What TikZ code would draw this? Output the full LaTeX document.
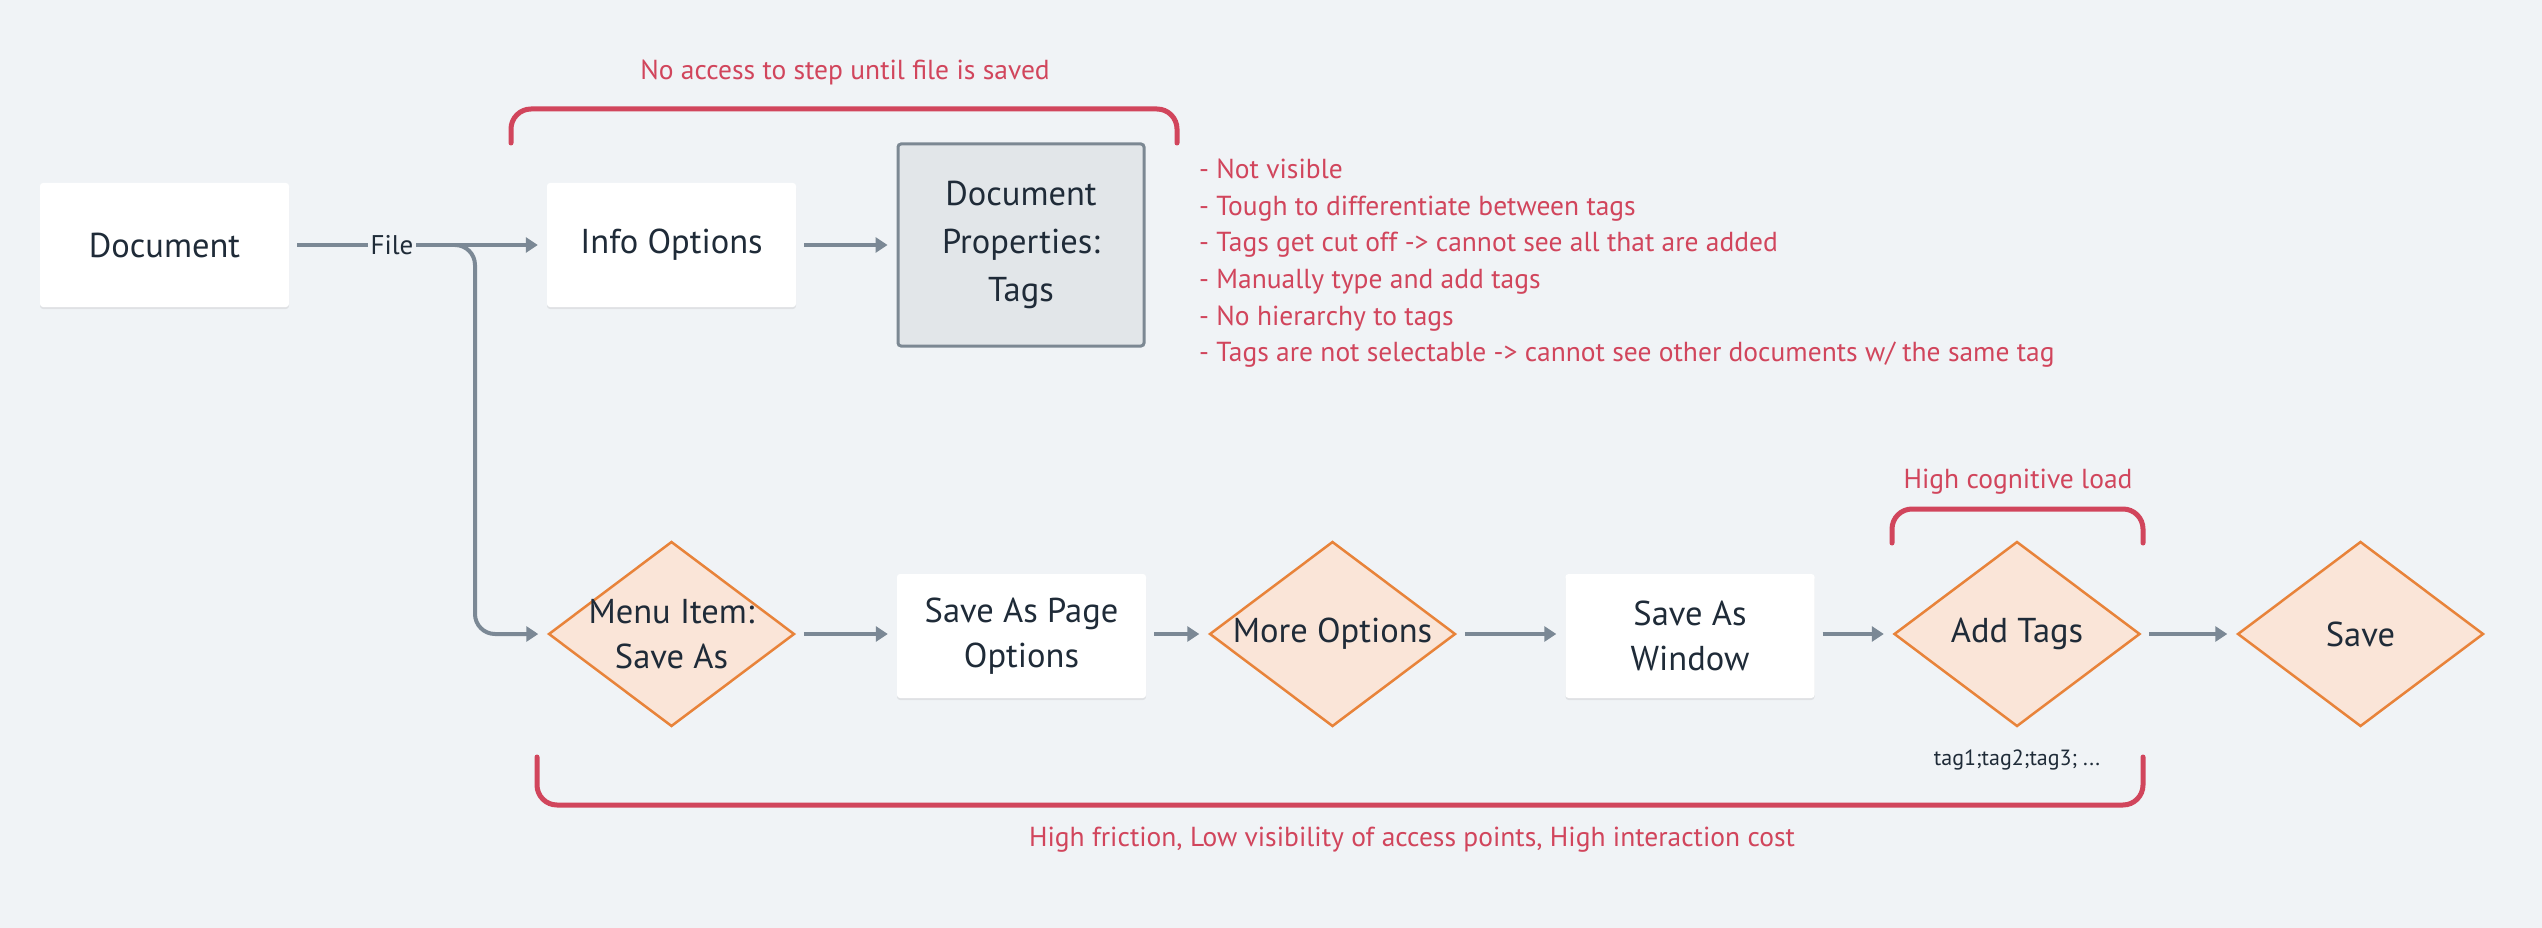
\documentclass[tikz,border=0pt]{standalone}
\usepackage{fontspec}
\setmainfont{PT Sans}
\usetikzlibrary{shapes.geometric,arrows.meta,shadows}
\definecolor{bg}{HTML}{F0F3F6}
\definecolor{ink}{HTML}{1F2B38}
\definecolor{noteRed}{HTML}{D1455C}
\definecolor{arrowGray}{HTML}{7B8895}
\definecolor{diaFill}{HTML}{FAE5D8}
\definecolor{diaDraw}{HTML}{E8833A}
\definecolor{propFill}{HTML}{E2E6E9}
\definecolor{propDraw}{HTML}{7C8893}
\begin{document}
\begin{tikzpicture}[x=1pt,y=-1pt,
  box/.style={rectangle, rounded corners=3pt, fill=white, minimum width=249pt, minimum height=124pt,
    inner sep=0pt, align=center, text=ink, font=\fontsize{34.5}{45}\selectfont,
    drop shadow={shadow xshift=0pt, shadow yshift=-2pt, opacity=0.07, fill=black}},
  propbox/.style={rectangle, rounded corners=3pt, fill=propFill, draw=propDraw, line width=3pt,
    minimum width=246pt, minimum height=202pt, inner sep=0pt, align=center, text=ink,
    font=\fontsize{34.5}{48}\selectfont},
  dia/.style={diamond, fill=diaFill, draw=diaDraw, line width=2.5pt, minimum width=246pt,
    minimum height=185pt, inner sep=0pt},
  diatext/.style={align=center, text=ink, font=\fontsize{34.5}{45}\selectfont, inner sep=0pt},
  flow/.style={draw=arrowGray, line width=4pt, -{Triangle[length=12pt,width=15pt]},
    shorten >=9pt, shorten <=8pt},
  bracket/.style={draw=noteRed, line width=5pt, rounded corners=20pt, line cap=round},
  note/.style={text=noteRed, font=\fontsize{27.5}{36.6}\selectfont, inner sep=0pt},
  lbl/.style={text=ink, font=\fontsize{27}{30}\selectfont, fill=bg, inner sep=3pt},
  small/.style={text=ink, font=\fontsize{22}{25}\selectfont, inner sep=0pt}
]
\fill[bg] (0,0) rectangle (2542,928);

% nodes
\node[box] (doc) at (164.5,245) {Document};
\node[box] (info) at (671.5,245) {Info Options};
\node[propbox] (props) at (1021,245) {Document\\Properties:\\Tags};
\node[dia, label={[diatext]center:{Menu Item:\\Save As}}] (menu) at (671.5,634) {};
\node[box] (page) at (1021.5,636) {Save As Page\\Options};
\node[dia, label={[diatext]center:{More Options}}] (more) at (1332.5,634) {};
\node[box] (win) at (1690,636) {Save As\\Window};
\node[dia, label={[diatext]center:{Add Tags}}] (tags) at (2017,634) {};
\node[dia, label={[diatext]center:{Save}}] (save) at (2360.5,634) {};

% connectors
\draw[flow] (doc) -- (info);
\coordinate (fork) at (455,245);
\draw[flow, shorten <=0pt, rounded corners=20pt] (fork) -- (475,245) -- (475,634) -- (menu.west);
\node[lbl] (file) at (392,245) {File};
\draw[flow] (info) -- (props);
\draw[flow] (menu) -- (page.west |- menu);
\draw[flow] (page.east |- more) -- (more);
\draw[flow] (more) -- (win.west |- more);
\draw[flow] (win.east |- tags) -- (tags);
\draw[flow] (tags) -- (save);

% brackets and notes
\draw[bracket] (511,143) -- (511,109) -- (1177,109) -- (1177,143);
\node[note] (topnote) at (845,72) {No access to step until file is saved};
\node[note, align=left, anchor=north west] (issues) at (1199,159)
  {- Not visible\\
   - Tough to differentiate between tags\\
   - Tags get cut off -> cannot see all that are added\\
   - Manually type and add tags\\
   - No hierarchy to tags\\
   - Tags are not selectable -> cannot see other documents w/ the same tag};
\draw[bracket] (1892,543) -- (1892,509) -- (2143,509) -- (2143,543);
\node[note] (loadnote) at (2018,482) {High cognitive load};
\node[small] (tagtext) at (2017,760) {tag1;tag2;tag3; ...};
\draw[bracket] (537,757) -- (537,805) -- (2143,805) -- (2143,757);
\node[note] (frictionnote) at (1412,840) {High friction, Low visibility of access points, High interaction cost};
\end{tikzpicture}
\end{document}
